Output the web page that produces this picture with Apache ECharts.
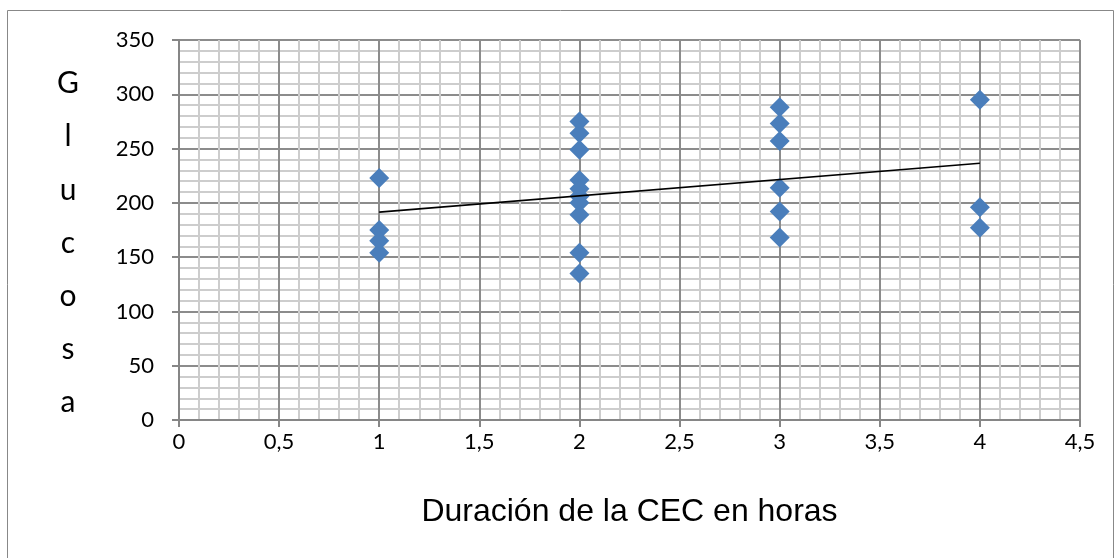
<!DOCTYPE html>
<html>
<head>
<meta charset="utf-8">
<script src="https://cdn.jsdelivr.net/npm/echarts@6/dist/echarts.min.js"></script>
<style>
html,body{margin:0;padding:0;background:#fff;}
#chart{width:1115px;height:558px;}
</style>
</head>
<body>
<div id="chart"></div>
<script>
// Duration of CEC (hours) for each observation
const durations = [1,1,1,1, 2,2,2,2,2,2,2,2,2,2, 3,3,3,3,3,3, 4,4,4];
// Glucose values
const glucose = [223,175,165,154, 275,264,249,221,213,206,200,189,154,135, 288,273,257,214,192,168, 295,196,177];
// Linear trend line
const trendX = [1, 4];
const trendY = [191.5, 236.5];
const xTicks = ['0','0,5','1','1,5','2','2,5','3','3,5','4','4,5'];
const yTitle = ['G','l','u','c','o','s','a'];
const xTitle = 'Duración de la CEC en horas';

const points = durations.map((d, i) => [d, glucose[i]]);
const trend = trendX.map((d, i) => [d, trendY[i]]);

const chart = echarts.init(document.getElementById('chart'), null, {renderer: 'canvas'});
const labelFont = 'Lato, "Open Sans", sans-serif';
chart.setOption({
  animation: false,
  backgroundColor: '#ffffff',
  grid: {left: 179, right: 35, top: 40, bottom: 138, containLabel: false},
  graphic: [
    {type: 'rect', shape: {x: 7.5, y: 10.5, width: 1106, height: 560},
     style: {fill: 'none', stroke: '#888888', lineWidth: 1}, silent: true, z: -1},
    {type: 'text', x: 68, y: 57, silent: true,
     style: {text: yTitle.join('\n'), font: '30px Lato, "Open Sans", sans-serif', fill: '#000',
             lineHeight: 53.2, align: 'center', verticalAlign: 'top'}}
  ],
  xAxis: {
    type: 'value', min: 0, max: 4.5, interval: 0.5,
    name: xTitle, nameLocation: 'middle', nameGap: 76,
    nameTextStyle: {fontFamily: '"Liberation Sans", Arial, sans-serif', fontSize: 32, color: '#000'},
    axisLine: {show: true, onZero: false, lineStyle: {color: '#868686', width: 2}},
    axisTick: {show: true, inside: false, length: 7, lineStyle: {color: '#868686', width: 2}},
    axisLabel: {fontFamily: labelFont, fontSize: 22, color: '#000', margin: 11,
      formatter: v => xTicks[Math.round(v * 2)]},
    splitLine: {show: true, lineStyle: {color: '#8c8c8c', width: 2}},
    minorTick: {show: false, splitNumber: 5},
    minorSplitLine: {show: true, lineStyle: {color: '#cdcdcd', width: 2}}
  },
  yAxis: {
    type: 'value', min: 0, max: 350, interval: 50,
    axisLine: {show: true, onZero: false, lineStyle: {color: '#868686', width: 2}},
    axisTick: {show: true, inside: false, length: 7, lineStyle: {color: '#868686', width: 2}},
    axisLabel: {fontFamily: labelFont, fontSize: 22, color: '#000', margin: 25},
    splitLine: {show: true, lineStyle: {color: '#8c8c8c', width: 2}},
    minorTick: {show: false, splitNumber: 5},
    minorSplitLine: {show: true, lineStyle: {color: '#cdcdcd', width: 2}}
  },
  series: [
    {type: 'scatter', data: points, symbol: 'diamond', symbolSize: [20, 20],
     itemStyle: {color: '#4a7ebb', opacity: 1}, z: 3},
    {type: 'line', data: trend, showSymbol: false, symbol: 'none',
     lineStyle: {color: '#000', width: 1.6}, z: 4}
  ]
});
</script>
</body>
</html>
